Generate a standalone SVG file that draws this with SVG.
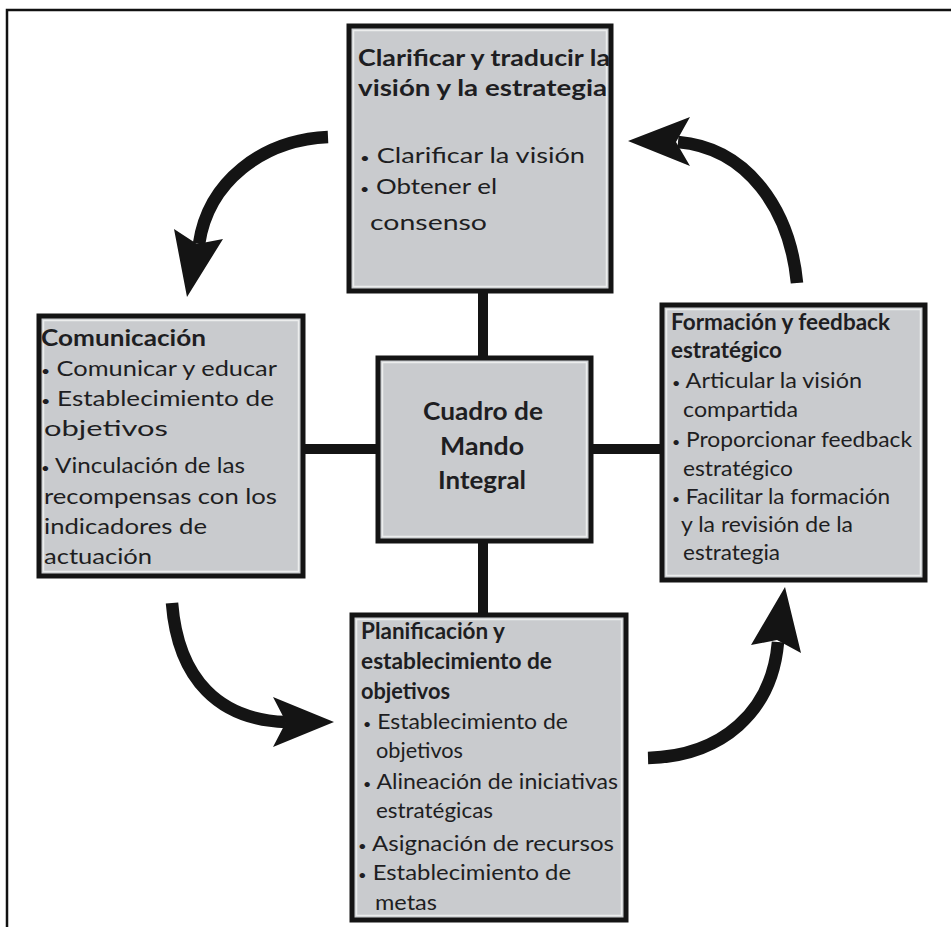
<svg xmlns="http://www.w3.org/2000/svg" width="951" height="927" viewBox="0 0 951 927">
  <style>
    .box { fill: #c9cbce; stroke: #141414; stroke-width: 5; }
    .inner { fill: none; stroke: #eceded; stroke-width: 1.5; }
    .t { font-family: Lato, "Open Sans", "DejaVu Sans", sans-serif; fill: #1e1e22; }
    .h { font-weight: bold; font-size: 22px; }
    .b { font-size: 21px; }
    .c { font-weight: bold; font-size: 24px; text-anchor: middle; }
    .dot { font-size: 13px; }
    .bar { stroke: #141414; stroke-width: 10; fill: none; }
    .shaft { stroke: #141414; stroke-width: 12.5; fill: none; }
    .head { fill: #141414; }
  </style>

  <rect width="951" height="927" fill="#ffffff"/>

  <!-- outer frame: top and left edges only -->
  <path d="M7,927 L7,10 L951,10" fill="none" stroke="#111" stroke-width="2.5"/>

  <!-- connectors: bars to the centre and cycle arrows -->
  <g id="connectors">
    <line class="bar" x1="483" y1="290" x2="483" y2="358"/>
    <line class="bar" x1="483" y1="541" x2="483" y2="615"/>
    <line class="bar" x1="303" y1="449" x2="378" y2="449"/>
    <line class="bar" x1="591" y1="449" x2="662" y2="449"/>

    <!-- top box to Comunicación -->
    <path class="shaft" d="M328,137 C262,140 208,182 199,244"/>
    <polygon class="head" points="187,297 174,229 197,244 223,239"/>

    <!-- Comunicación to Planificación -->
    <path class="shaft" d="M172,603 C178,680 220,720 286,722"/>
    <polygon class="head" points="334,722 273,697 286,722 273,747"/>

    <!-- Planificación to Formación -->
    <path class="shaft" d="M648,758 C722,756 772,712 778,642"/>
    <polygon class="head" points="785,587 751,645 777,640 801,653"/>

    <!-- Formación back to top box -->
    <path class="shaft" d="M797,283 C790,210 748,148 678,142"/>
    <polygon class="head" points="628,141 690,117 676,142 690,166"/>
  </g>

  <g id="node-vision">
    <rect class="box" x="349" y="26" width="262" height="265"/>
    <rect class="inner" x="353.5" y="30.5" width="253" height="256"/>
    <text class="t h" x="358" y="66" textLength="252" lengthAdjust="spacingAndGlyphs">Clarificar y traducir la</text>
    <text class="t h" x="358" y="96" textLength="249" lengthAdjust="spacingAndGlyphs">visión y la estrategia</text>
    <text class="t b" x="360" y="163" textLength="225" lengthAdjust="spacingAndGlyphs"><tspan class="dot">•</tspan> Clarificar la visión</text>
    <text class="t b" x="360" y="194" textLength="137" lengthAdjust="spacingAndGlyphs"><tspan class="dot">•</tspan> Obtener el</text>
    <text class="t b" x="370" y="230" textLength="117" lengthAdjust="spacingAndGlyphs">consenso</text>
  </g>

  <g id="node-comunicacion">
    <rect class="box" x="39" y="316" width="264" height="260"/>
    <rect class="inner" x="43.5" y="320.5" width="255" height="251"/>
    <text class="t h" x="41" y="346" textLength="165" lengthAdjust="spacingAndGlyphs">Comunicación</text>
    <text class="t b" x="41" y="376" textLength="236" lengthAdjust="spacingAndGlyphs"><tspan class="dot">•</tspan> Comunicar y educar</text>
    <text class="t b" x="41" y="406" textLength="233" lengthAdjust="spacingAndGlyphs"><tspan class="dot">•</tspan> Establecimiento de</text>
    <text class="t b" x="44" y="436" textLength="124" lengthAdjust="spacingAndGlyphs">objetivos</text>
    <text class="t b" x="41" y="473" textLength="204" lengthAdjust="spacingAndGlyphs"><tspan class="dot">•</tspan> Vinculación de las</text>
    <text class="t b" x="44" y="504" textLength="233" lengthAdjust="spacingAndGlyphs">recompensas con los</text>
    <text class="t b" x="44" y="534" textLength="163" lengthAdjust="spacingAndGlyphs">indicadores de</text>
    <text class="t b" x="44" y="564" textLength="108" lengthAdjust="spacingAndGlyphs">actuación</text>
  </g>

  <g id="node-cmi">
    <rect class="box" x="378" y="358" width="213" height="183"/>
    <rect class="inner" x="382.5" y="362.5" width="204" height="174"/>
    <text class="t c" x="483" y="420" textLength="120" lengthAdjust="spacingAndGlyphs">Cuadro de</text>
    <text class="t c" x="482" y="455" textLength="84" lengthAdjust="spacingAndGlyphs">Mando</text>
    <text class="t c" x="482" y="489" textLength="88" lengthAdjust="spacingAndGlyphs">Integral</text>
  </g>

  <g id="node-formacion">
    <rect class="box" x="662" y="305" width="263" height="275"/>
    <rect class="inner" x="666.5" y="309.5" width="254" height="266"/>
    <text class="t h" x="671" y="330" textLength="219" lengthAdjust="spacingAndGlyphs">Formación y feedback</text>
    <text class="t h" x="671" y="358" textLength="111" lengthAdjust="spacingAndGlyphs">estratégico</text>
    <text class="t b" x="672" y="388" textLength="190" lengthAdjust="spacingAndGlyphs"><tspan class="dot">•</tspan> Articular la visión</text>
    <text class="t b" x="683" y="417" textLength="115" lengthAdjust="spacingAndGlyphs">compartida</text>
    <text class="t b" x="672" y="447" textLength="240" lengthAdjust="spacingAndGlyphs"><tspan class="dot">•</tspan> Proporcionar feedback</text>
    <text class="t b" x="683" y="476" textLength="110" lengthAdjust="spacingAndGlyphs">estratégico</text>
    <text class="t b" x="672" y="504" textLength="218" lengthAdjust="spacingAndGlyphs"><tspan class="dot">•</tspan> Facilitar la formación</text>
    <text class="t b" x="681" y="532" textLength="172" lengthAdjust="spacingAndGlyphs">y la revisión de la</text>
    <text class="t b" x="683" y="560" textLength="97" lengthAdjust="spacingAndGlyphs">estrategia</text>
  </g>

  <g id="node-planificacion">
    <rect class="box" x="352" y="615" width="274" height="305"/>
    <rect class="inner" x="356.5" y="619.5" width="265" height="296"/>
    <text class="t h" x="361" y="639" textLength="144" lengthAdjust="spacingAndGlyphs">Planificación y</text>
    <text class="t h" x="361" y="669" textLength="191" lengthAdjust="spacingAndGlyphs">establecimiento de</text>
    <text class="t h" x="361" y="699" textLength="89" lengthAdjust="spacingAndGlyphs">objetivos</text>
    <text class="t b" x="363" y="729" textLength="205" lengthAdjust="spacingAndGlyphs"><tspan class="dot">•</tspan> Establecimiento de</text>
    <text class="t b" x="376" y="758" textLength="87" lengthAdjust="spacingAndGlyphs">objetivos</text>
    <text class="t b" x="363" y="789" textLength="255" lengthAdjust="spacingAndGlyphs"><tspan class="dot">•</tspan> Alineación de iniciativas</text>
    <text class="t b" x="376" y="818" textLength="117" lengthAdjust="spacingAndGlyphs">estratégicas</text>
    <text class="t b" x="358" y="851" textLength="256" lengthAdjust="spacingAndGlyphs"><tspan class="dot">•</tspan> Asignación de recursos</text>
    <text class="t b" x="358" y="880" textLength="213" lengthAdjust="spacingAndGlyphs"><tspan class="dot">•</tspan> Establecimiento de</text>
    <text class="t b" x="375" y="910" textLength="62" lengthAdjust="spacingAndGlyphs">metas</text>
  </g>
</svg>
